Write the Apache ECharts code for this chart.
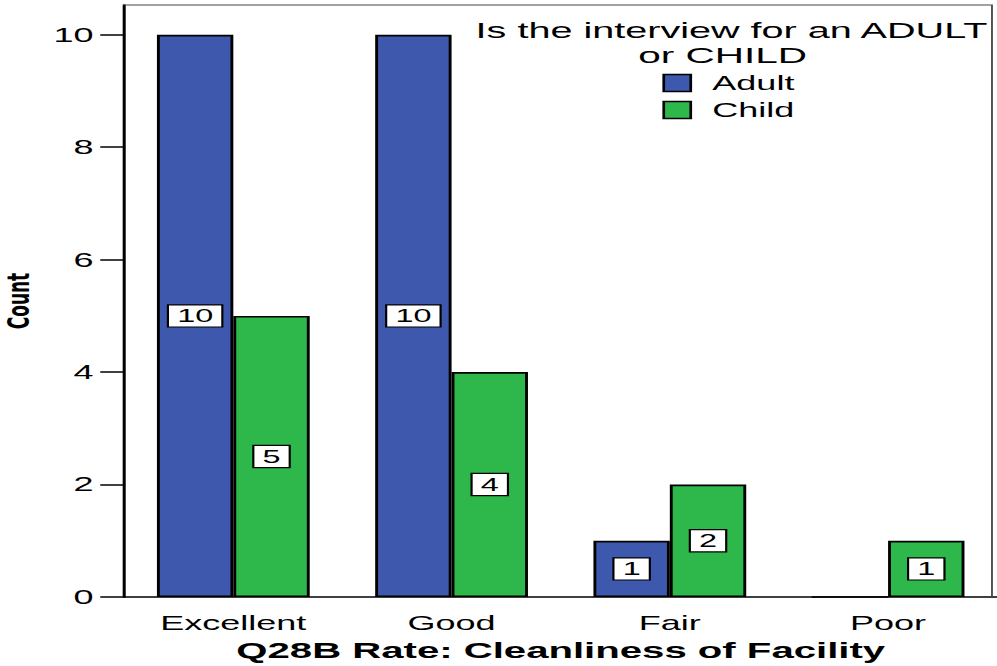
<!DOCTYPE html>
<html>
<head>
<meta charset="utf-8">
<script src="https://cdn.jsdelivr.net/npm/echarts@6/dist/echarts.min.js"></script>
<style>
  html, body { margin: 0; padding: 0; background: #fff; width: 997px; height: 666px; overflow: hidden; }
  /* chart is laid out narrow and widened horizontally, giving the wide lettering of the original export */
  #chart { width: 554px; height: 666px; transform: scaleX(1.8); transform-origin: 0 0; }
</style>
</head>
<body>
<div id="chart"></div>
<script>
// Counts of cleanliness ratings by interview type
const categories = ['Excellent', 'Good', 'Fair', 'Poor'];
const adultCounts = [10, 10, 1, 0];
const childCounts = [5, 4, 2, 1];
const yTicks = [0, 2, 4, 6, 8, 10];
const seriesNames = ['Adult', 'Child'];
const legendTitle = ['Is the interview for an ADULT', 'or CHILD'];
const xAxisTitle = 'Q28B Rate: Cleanliness of Facility';
const yAxisTitle = 'Count';

const FONT = 'Liberation Sans, Arial, Helvetica, sans-serif';
const colors = ['#3D58AC', '#2EB84B'];

const GRID = { left: 69, right: 0, top: 5, bottom: 69 };
const FRAME_RIGHT = 551.1;   // inner frame edge, slightly inside the category band end
const HEIGHT = 666;

function barData(values) {
  return values.map(v => ({
    value: v,
    label: { show: v > 0 }
  }));
}

const valueLabel = {
  show: true,
  position: 'inside',
  color: '#000',
  fontFamily: FONT,
  fontSize: 18,
  backgroundColor: '#fff',
  borderColor: '#000',
  borderWidth: 1.2,
  padding: [2, 4.5, 1, 4.5]
};

const chart = echarts.init(document.getElementById('chart'), null, { renderer: 'svg' });

chart.setOption({
  animation: false,
  backgroundColor: '#fff',
  grid: Object.assign({ outerBoundsMode: 'none', containLabel: false, show: false }, GRID),
  legend: {
    orient: 'vertical',
    left: 368, top: 73,
    padding: 0,
    itemWidth: 15, itemHeight: 17, itemGap: 7,
    icon: 'rect',
    itemStyle: { borderColor: '#000', borderWidth: 1.5 },
    textStyle: { fontFamily: FONT, fontSize: 20, color: '#000', padding: [0, 0, 0, 7] },
    data: seriesNames
  },
  graphic: [
    {
      // top and right edges of the plot frame
      type: 'polyline', silent: true, z: 1,
      shape: { points: [[GRID.left, GRID.top], [FRAME_RIGHT, GRID.top], [FRAME_RIGHT, HEIGHT - GRID.bottom]] },
      style: { stroke: '#444', lineWidth: 1, fill: null }
    },
    {
      type: 'text', x: 406.4, y: 30.5,
      style: { text: legendTitle[0], fontFamily: FONT, fontSize: 22, fill: '#000', align: 'center', verticalAlign: 'middle' }
    },
    {
      type: 'text', x: 401.5, y: 55,
      style: { text: legendTitle[1], fontFamily: FONT, fontSize: 22.5, fill: '#000', align: 'center', verticalAlign: 'middle' }
    }
  ],
  xAxis: {
    type: 'category',
    data: categories,
    name: xAxisTitle,
    nameLocation: 'middle',
    nameGap: 42,
    nameTextStyle: { fontFamily: FONT, fontSize: 22.3, fontWeight: 'bold', color: '#000' },
    axisLine: { lineStyle: { color: '#000', width: 1.5 } },
    axisTick: { alignWithLabel: true, length: 13, lineStyle: { color: '#000', width: 1.5 } },
    axisLabel: { fontFamily: FONT, fontSize: 20, color: '#000', margin: 16 },
    splitLine: { show: false }
  },
  yAxis: {
    type: 'value',
    min: 0,
    max: 10.53,
    name: yAxisTitle,
    nameLocation: 'middle',
    nameGap: 43,
    nameTextStyle: { fontFamily: 'DejaVu Sans', fontSize: 17, fontWeight: 'bold', color: '#000' },
    axisLine: { show: true, lineStyle: { color: '#000', width: 1.7 } },
    axisTick: { show: true, length: 13.3, customValues: yTicks, lineStyle: { color: '#000', width: 1.5 } },
    axisLabel: { fontFamily: FONT, fontSize: 20, color: '#000', margin: 17, customValues: yTicks },
    splitLine: { show: false }
  },
  series: [
    {
      name: seriesNames[0], type: 'bar',
      data: barData(adultCounts),
      barGap: '0%', barCategoryGap: '30%',
      itemStyle: { color: colors[0], borderColor: '#000', borderWidth: 1.6 },
      label: valueLabel
    },
    {
      name: seriesNames[1], type: 'bar',
      data: barData(childCounts),
      barGap: '0%', barCategoryGap: '30%',
      itemStyle: { color: colors[1], borderColor: '#000', borderWidth: 1.6 },
      label: valueLabel
    }
  ]
});
</script>
</body>
</html>
